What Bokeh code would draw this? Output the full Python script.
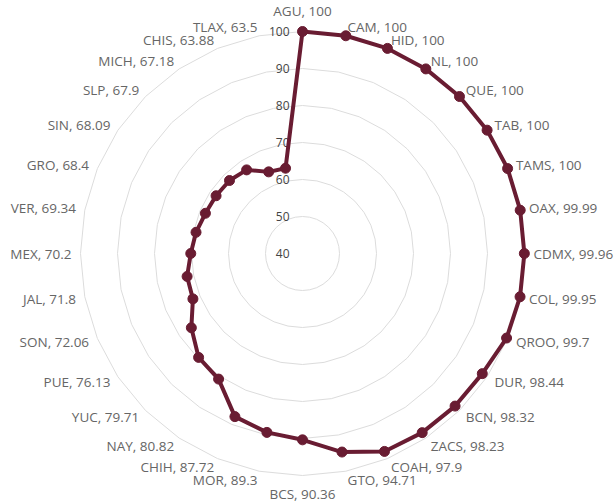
import numpy as np
from bokeh.plotting import figure
from bokeh.models import ColumnDataSource, Range1d
from bokeh.core.properties import value
from bokeh.embed import file_html
from bokeh.resources import INLINE

states = ["AGU", "CAM", "HID", "NL", "QUE", "TAB", "TAMS", "OAX", "CDMX", "COL",
          "QROO", "DUR", "BCN", "ZACS", "COAH", "GTO", "BCS", "MOR", "CHIH", "NAY",
          "YUC", "PUE", "SON", "JAL", "MEX", "VER", "GRO", "SIN", "SLP", "MICH",
          "CHIS", "TLAX"]
values = [100, 100, 100, 100, 100, 100, 100, 99.99, 99.96, 99.95,
          99.7, 98.44, 98.32, 98.23, 97.9, 94.71, 90.36, 89.3, 87.72, 80.82,
          79.71, 76.13, 72.06, 71.8, 70.2, 69.34, 68.4, 68.09, 67.9, 67.18,
          63.88, 63.5]
ring_values = [40, 50, 60, 70, 80, 90, 100]
value_labels = [str(v) for v in values]

R_MIN, R_MAX = 40, 100
W, H = 614, 503
CX, CY = 302, 253          # centre in plot pixels (from left, from top)
K = 3.7                    # pixels per value unit
COLOR = "#691C32"
FONT = "Open Sans"

p = figure(width=W, height=H, output_backend="svg", toolbar_location=None,
           x_range=Range1d(-CX / K, (W - CX) / K),
           y_range=Range1d(-(H - CY) / K, CY / K),
           min_border=0)
p.axis.visible = False
p.grid.visible = False
p.outline_line_color = None
p.background_fill_color = "white"

n = len(states)
theta = np.arange(n) * 2 * np.pi / n

# grid rings (polygons)
gx, gy = [], []
for rv in ring_values[1:]:
    r = rv - R_MIN
    gx.append(list(r * np.sin(theta)) + [r * np.sin(theta[0])])
    gy.append(list(r * np.cos(theta)) + [r * np.cos(theta[0])])
p.multi_line(gx, gy, line_color="#dcdcdc", line_width=1)

# tick labels (drawn beneath the data line)
tx = [-13 / K] * len(ring_values)
ty = [rv - R_MIN for rv in ring_values]
p.text(tx, ty, text=[str(v) for v in ring_values], text_align="right",
       text_baseline="middle", text_font=value(FONT), text_font_size="12px",
       text_color="#444444")

# data
rad = np.array(values) - R_MIN
dx = rad * np.sin(theta)
dy = rad * np.cos(theta)
p.line(list(dx) + [dx[0]], list(dy) + [dy[0]], line_color=COLOR, line_width=4,
       line_join="round")
p.scatter(dx, dy, size=10, fill_color=COLOR, line_color=COLOR)

# point labels
LR = (R_MAX - R_MIN) + 9 / K
groups = {}
for i, (s, v) in enumerate(zip(states, values)):
    ang = 360.0 * i / n
    lx = LR * np.sin(theta[i])
    ly = LR * np.cos(theta[i])
    if i == 0:
        al, bl = "center", "bottom"
        ly += 3 / K
    elif ang == 180:
        al, bl = "center", "top"
    elif ang < 180:
        al, bl = "left", "middle"
    else:
        al, bl = "right", "middle"
    groups.setdefault((al, bl), {"x": [], "y": [], "t": []})
    g = groups[(al, bl)]
    g["x"].append(lx)
    g["y"].append(ly)
    g["t"].append(f"{s}, {value_labels[i]}")

for (al, bl), g in groups.items():
    src = ColumnDataSource(dict(x=g["x"], y=g["y"], t=g["t"]))
    p.text("x", "y", text="t", source=src, text_align=al, text_baseline=bl,
           text_font=value(FONT), text_font_size="13.5px", text_color="#666666")

open("out.html", "w").write(file_html(p, INLINE))
